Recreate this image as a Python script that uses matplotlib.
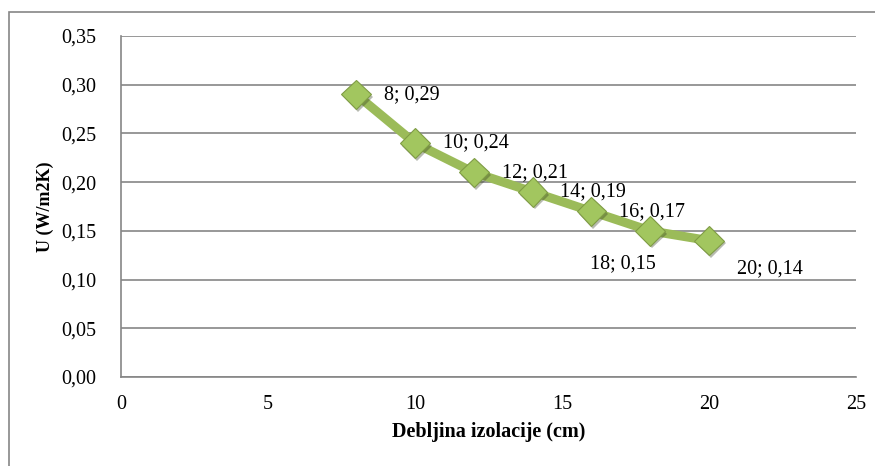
import matplotlib
matplotlib.use("Agg")
import matplotlib.pyplot as plt
import matplotlib.patheffects as pe
from matplotlib.patches import Rectangle

# data
thickness = [8, 10, 12, 14, 16, 18, 20]
u_value = [0.29, 0.24, 0.21, 0.19, 0.17, 0.15, 0.14]
x_ticks = [0, 5, 10, 15, 20, 25]
y_ticks = [0.00, 0.05, 0.10, 0.15, 0.20, 0.25, 0.30, 0.35]

plt.rcParams['font.family'] = ['Liberation Serif', 'DejaVu Serif']

W, H = 875, 466
fig = plt.figure(figsize=(W / 100, H / 100), dpi=100)
ax = fig.add_axes([121 / W, 1 - 377 / H, (856 - 121) / W, (377 - 36) / H])

# outer chart frame (right/bottom edges fall outside the image)
fig.patches.append(Rectangle((9 / W, -0.1), 1.2, (1 - 12 / H) + 0.1,
                             transform=fig.transFigure, fill=False,
                             edgecolor='#868686', linewidth=1.2))

green = '#9BBB59'
ax.plot(thickness, u_value, color=green, linewidth=6.5, solid_joinstyle='round',
        solid_capstyle='round', zorder=3)
ax.plot(thickness, u_value, linestyle='none', marker='D', markersize=15,
        markerfacecolor='#A2C65F', markeredgecolor='#7F9C45', markeredgewidth=0.8,
        zorder=4,
        path_effects=[pe.SimplePatchShadow(offset=(1.5, -2), alpha=0.35), pe.Normal()])

# label offsets in points (dx, dy)
offsets = {18: (-20, -24), 20: (20, -20)}
for x, y in zip(thickness, u_value):
    dx, dy = offsets.get(x, (20, 0))
    ax.annotate(f"{x}; {y:.2f}".replace('.', ','), (x, y), xytext=(dx, dy),
                textcoords='offset points', fontsize=14.5, ha='left' if x != 18 else 'center',
                va='center', color='black', zorder=5)

ax.set_xlim(0, 25)
ax.set_ylim(0, 0.35)
ax.set_xticks(x_ticks)
ax.set_yticks(y_ticks)
ax.set_xticklabels([str(t) for t in x_ticks], fontsize=14.5)
ax.set_yticklabels([f"{t:.2f}".replace('.', ',') for t in y_ticks], fontsize=14.5)
ax.tick_params(length=0, pad=13)
ax.tick_params(axis='y', pad=18)

ax.grid(axis='y', color='#868686', linewidth=1.2)
ax.set_axisbelow(True)
for s in ['top', 'right']:
    ax.spines[s].set_visible(False)
for s in ['left', 'bottom']:
    ax.spines[s].set_color('#868686')
    ax.spines[s].set_linewidth(1.2)

ax.set_xlabel('Debljina izolacije (cm)', fontsize=14.5, fontweight='bold', labelpad=6)
ax.set_ylabel('U (W/m2K)', fontsize=13, fontweight='bold', labelpad=5)

fig.savefig('out.png', dpi=100)
